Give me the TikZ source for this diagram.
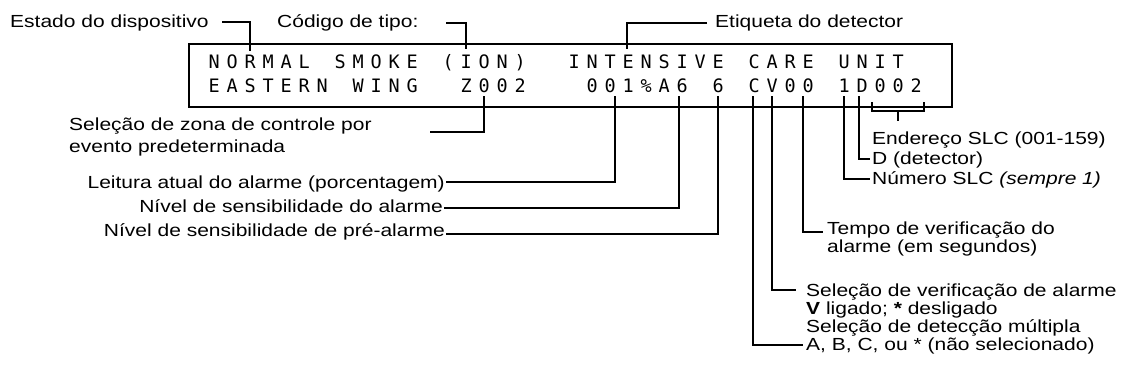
\documentclass[tikz,border=0pt]{standalone}
\usepackage{fontspec}
\setmainfont{Liberation Sans}[FakeStretch=1.2]
\newfontfamily\lcdfont{DejaVu Sans Mono}
\newcommand\lcdcell[1]{\makebox[18pt][c]{#1}}
\def\lcdstop{\lcdstop}
\def\lcdrow#1{\lcdloop#1\lcdstop}
\def\lcdloop#1{\ifx#1\lcdstop\else\lcdcell{#1}\expandafter\lcdloop\fi}
\begin{document}
\begin{tikzpicture}[x=1pt,y=-1pt,
  conn/.style={line width=2pt},
  lbl/.style={inner sep=0pt, font=\fontsize{17.5}{20}\selectfont, anchor=base west},
  lblr/.style={lbl, anchor=base east},
  lcd/.style={inner sep=0pt, font=\lcdfont\fontsize{18.5}{20}\selectfont, anchor=base west},
  panel/.style={draw, line width=2.3pt, inner sep=0pt, anchor=north west}]
\useasboundingbox (0,0) rectangle (1125,375);

% LCD panel
\node[panel, minimum width=763pt, minimum height=63pt] (lcdbox) at (188,43) {};
\node[lcd] (row1) at (205,68.5) {\lcdrow{NORMAL~SMOKE~(ION)~~INTENSIVE~CARE~UNIT}};
\node[lcd] (row2) at (205,92) {\lcdrow{EASTERN~WING~~Z002~~~001\%A6~6~CV00~1D002}};

% top labels
\node[lbl] (estado) at (10,27) {Estado do dispositivo};
\coordinate (estadoE) at (222,22); \coordinate (colR) at (250,51);
\draw[conn] (estadoE) -| (colR);

\node[lbl] (codigo) at (277,27) {Código de tipo:};
\coordinate (codigoE) at (446,23); \coordinate (colI) at (466,49);
\draw[conn] (codigoE) -| (colI);

\node[lbl] (etiq) at (715,27) {Etiqueta do detector};
\coordinate (etiqW) at (707,23); \coordinate (colE) at (627,49);
\draw[conn] (etiqW) -| (colE);

% bottom-left labels
\node[lbl] (zona1) at (69,130) {Seleção de zona de controle por};
\node[lbl] (zona2) at (69,152) {evento predeterminada};
\coordinate (zonaE) at (430,132); \coordinate (c15) at (484,96);
\draw[conn] (c15) |- (zonaE);

\node[lblr] (leit) at (445,188) {Leitura atual do alarme (porcentagem)};
\coordinate (leitE) at (446,182); \coordinate (c22) at (615,96);
\draw[conn] (c22) |- (leitE);

\node[lblr] (sens) at (443,212) {Nível de sensibilidade do alarme};
\coordinate (sensE) at (444,208); \coordinate (c26) at (679,96);
\draw[conn] (c26) |- (sensE);

\node[lblr] (pre) at (445,236) {Nível de sensibilidade de pré-alarme};
\coordinate (preE) at (446,234); \coordinate (c28) at (718,96);
\draw[conn] (c28) |- (preE);

% bottom-right labels
\node[lbl] (tempo1) at (827,234) {Tempo de verificação do};
\node[lbl] (tempo2) at (827,252) {alarme (em segundos)};
\coordinate (tempoW) at (823,232); \coordinate (c33) at (803,96);
\draw[conn] (c33) |- (tempoW);

\node[lbl] (verif1) at (806,296) {Seleção de verificação de alarme};
\node[lbl] (verif2) at (806,314) {\textbf{V} ligado; \textbf{*} desligado};
\coordinate (verifW) at (796,290); \coordinate (c31) at (772,96);
\draw[conn] (c31) |- (verifW);

\node[lbl] (multi1) at (806,332) {Seleção de detecção múltipla};
\node[lbl] (multi2) at (806,350) {A, B, C, ou * (não selecionado)};
\coordinate (multiW) at (803,345); \coordinate (c30) at (753,96);
\draw[conn] (c30) |- (multiW);

% right labels
\node[lbl] (ender) at (872,144) {Endereço SLC (001-159)};
\node[lbl] (det) at (872,164) {D (detector)};
\node[lbl] (num) at (872,184) {Número SLC \textit{(sempre 1)}};
\coordinate (detW) at (870,159); \coordinate (c36) at (859,96);
\draw[conn] (c36) |- (detW);
\coordinate (numW) at (870,179); \coordinate (c35) at (844,96);
\draw[conn] (c35) |- (numW);

% bracket for address
\coordinate (bl) at (872,102); \coordinate (br) at (924,102);
\coordinate (bm) at (898,111); \coordinate (bt) at (898,121);
\draw[conn] (bl) -- (bl |- bm) -| (br);
\draw[conn] (bm) -- (bt);
\end{tikzpicture}
\end{document}
